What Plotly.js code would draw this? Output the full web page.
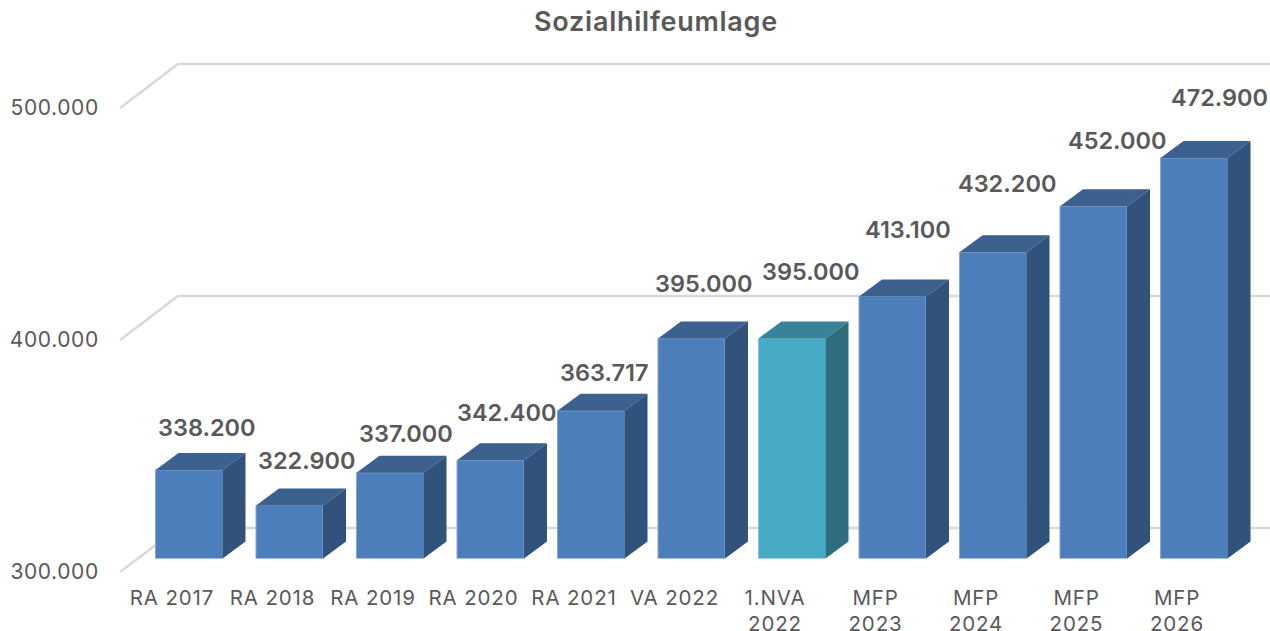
<!DOCTYPE html>
<html>
<head>
<meta charset="utf-8">
<script src="https://cdn.plot.ly/plotly-3.0.1.min.js"></script>
<style>
html,body{margin:0;padding:0;background:#fff}
#chart{width:1270px;height:631px}
#chart .xtick text{letter-spacing:.85px}
#chart .ytick text{letter-spacing:.6px}
#chart .gtitle{letter-spacing:.75px}
</style>
</head>
<body>
<div id="chart"></div>
<script>
const chartTitle = "Sozialhilfeumlage";
const categories = ["RA 2017","RA 2018","RA 2019","RA 2020","RA 2021","VA 2022","1.NVA<br>2022","MFP<br>2023","MFP<br>2024","MFP<br>2025","MFP<br>2026"];
const values = [338200,322900,337000,342400,363717,395000,395000,413100,432200,452000,472900];
const valueLabels = ["338.200","322.900","337.000","342.400","363.717","395.000","395.000","413.100","432.200","452.000","472.900"];
const yTickVals = [300000,400000,500000];
const yTickText = ["300.000","400.000","500.000"];
const highlighted = [6];

// label nudges in px (manually placed in the original chart)
const labelShiftX = [17.5,17,16,16,13,12,19,15,14,23.5,25.5];
const labelShiftY = [42,45,39,48,38,55,67,67,69,66,60];

const W = 1270, H = 631;
const FONT = "Inter, 'Open Sans', sans-serif";
const TXT = "#595959";
const pxStep = 100.5;
const barW = 67 / pxStep;
const depthX = 23 / pxStep;
const axisScale = 2.32 / 1000, barScale = 2.317 / 1000;
const depthY = 17 / barScale;
const wallX = 58 / pxStep, wallY = 44 / axisScale;

const plotL = 120, y1Bottom = 572, y2Bottom = 558.5;
const x1Range = [-(172 - plotL) / pxStep, (W - 172) / pxStep];
const x2Range = [-(189 - plotL) / pxStep, (W - 189) / pxStep];
const y1Range = [300000, 300000 + y1Bottom / axisScale];
const y2Range = [300000, 300000 + y2Bottom / barScale];

const idx = categories.map((_, i) => i);
const isHi = i => highlighted.includes(i);

// wall grid: front edge → back edge → right end
const gridX = [], gridY = [];
yTickVals.forEach(v => {
  gridX.push(x1Range[0], x1Range[0] + wallX, x1Range[1], null);
  gridY.push(v, v + wallY, v + wallY, null);
});

function topFace(sel) {
  const xs = [], ys = [];
  idx.filter(sel).forEach(i => {
    const l = i - barW / 2, r = i + barW / 2, v = values[i];
    xs.push(l, r, r + depthX, l + depthX, l, null);
    ys.push(v, v, v + depthY, v + depthY, v, null);
  });
  return {x: xs, y: ys};
}
function sideFace(sel) {
  const xs = [], ys = [];
  idx.filter(sel).forEach(i => {
    const r = i + barW / 2, v = values[i];
    xs.push(r, r + depthX, r + depthX, r, r, null);
    ys.push(300000, 300000 + depthY, v + depthY, v, 300000, null);
  });
  return {x: xs, y: ys};
}
function poly(g, color) {
  return {type: "scatter", mode: "lines", x: g.x, y: g.y, xaxis: "x2", yaxis: "y2",
    fill: "toself", fillcolor: color, line: {width: 0, color: color}, hoverinfo: "skip", showlegend: false};
}

const traces = [
  {type: "scatter", mode: "lines", x: gridX, y: gridY, xaxis: "x", yaxis: "y",
   line: {color: "#d9d9d9", width: 2.5}, hoverinfo: "skip", showlegend: false, connectgaps: false},
  {type: "bar", x: idx, y: values, width: idx.map(() => barW), xaxis: "x2", yaxis: "y2",
   marker: {color: idx.map(i => isHi(i) ? "#48abc6" : "#4d7ebc"),
            line: {color: idx.map(i => isHi(i) ? "#7fc4d8" : "#86a5cf"), width: 1}},
   showlegend: false},
  poly(topFace(i => !isHi(i)), "#3c618f"),
  poly(sideFace(i => !isHi(i)), "#31527a"),
  poly(topFace(isHi), "#38829a"),
  poly(sideFace(isHi), "#2f6d7e")
];

const annotations = idx.map(i => ({
  text: valueLabels[i], x: i, y: values[i], xref: "x2", yref: "y2",
  xanchor: "center", yanchor: "middle", showarrow: false,
  xshift: labelShiftX[i], yshift: labelShiftY[i],
  font: {family: FONT, size: 23.5, color: TXT, weight: 600}
}));

const layout = {
  width: W, height: H,
  margin: {l: 0, r: 0, t: 0, b: 0, pad: 0},
  paper_bgcolor: "#fff", plot_bgcolor: "rgba(0,0,0,0)",
  showlegend: false,
  title: {text: chartTitle, x: 656 / W, xanchor: "center", xref: "paper", y: 1 - 22 / H, yanchor: "middle", yref: "paper",
          font: {family: FONT, size: 27, color: TXT, weight: 600}},
  xaxis: {domain: [plotL / W, 1], range: x1Range, anchor: "y", type: "linear",
          tickmode: "array", tickvals: idx, ticktext: categories,
          showgrid: false, zeroline: false, showline: false,
          ticks: "outside", ticklen: 7, tickcolor: "rgba(0,0,0,0)",
          tickangle: 0, tickfont: {family: FONT, size: 20.5, color: TXT}},
  yaxis: {domain: [(H - y1Bottom) / H, 1], range: y1Range, anchor: "x", type: "linear",
          tickmode: "array", tickvals: yTickVals, ticktext: yTickText,
          showgrid: false, zeroline: false, showline: false,
          ticks: "outside", ticklen: 16, tickcolor: "rgba(0,0,0,0)",
          tickfont: {family: FONT, size: 21, color: TXT}},
  xaxis2: {domain: [plotL / W, 1], range: x2Range, anchor: "y2", type: "linear", visible: false},
  yaxis2: {domain: [(H - y2Bottom) / H, 1], range: y2Range, anchor: "x2", type: "linear", visible: false},
  annotations: annotations
};

Plotly.newPlot("chart", traces, layout, {displayModeBar: false, responsive: false});
</script>
</body>
</html>
